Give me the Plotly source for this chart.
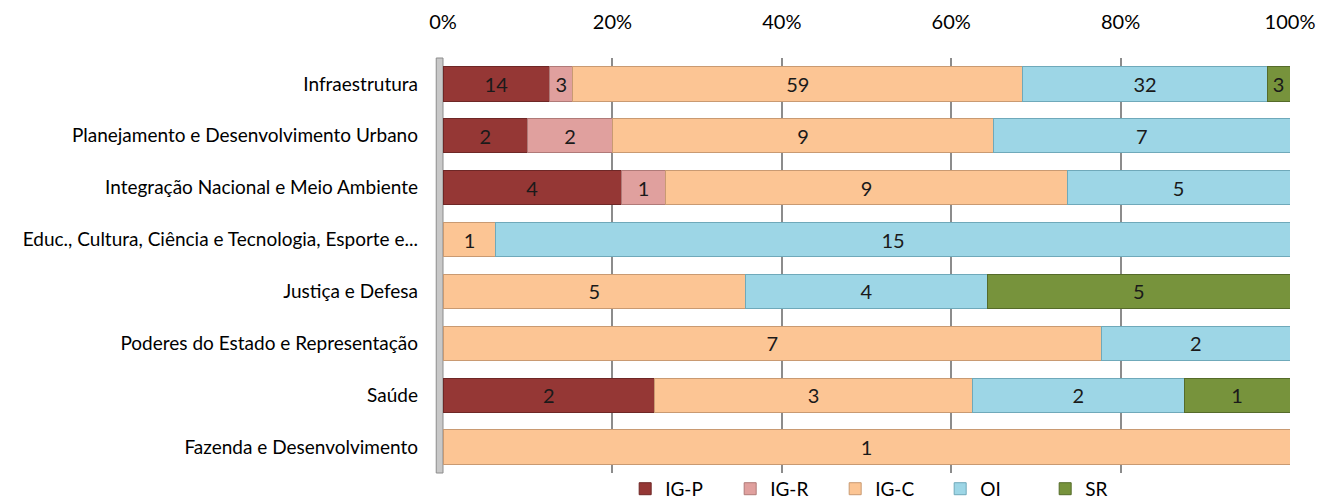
import plotly.graph_objects as go

categories = [
    "Infraestrutura",
    "Planejamento e Desenvolvimento Urbano",
    "Integração Nacional e Meio Ambiente",
    "Educ., Cultura, Ciência e Tecnologia, Esporte e...",
    "Justiça e Defesa",
    "Poderes do Estado e Representação",
    "Saúde",
    "Fazenda e Desenvolvimento",
]

series_names = ["IG-P", "IG-R", "IG-C", "OI", "SR"]
ig_p = [14, 2, 4, 0, 0, 0, 2, 0]
ig_r = [3, 2, 1, 0, 0, 0, 0, 0]
ig_c = [59, 9, 9, 1, 5, 7, 3, 1]
oi = [32, 7, 5, 15, 4, 2, 2, 0]
sr = [3, 0, 0, 0, 5, 0, 1, 0]

x_ticks = [0, 20, 40, 60, 80, 100]
x_tick_labels = ["0%", "20%", "40%", "60%", "80%", "100%"]

colors = ["#953735", "#E0A09E", "#FCC594", "#9DD6E6", "#77933C"]
edge_colors = ["#6E2726", "#B07A78", "#C99A72", "#6FA9BA", "#556B2A"]

FONT = "Lato, 'Open Sans', sans-serif"

fig = go.Figure()
for name, vals, col, edge in zip(series_names, [ig_p, ig_r, ig_c, oi, sr], colors, edge_colors):
    fig.add_trace(go.Bar(
        name=name,
        y=categories,
        x=vals,
        orientation="h",
        marker=dict(color=col, line=dict(color=edge, width=1)),
        text=[str(v) if v else "" for v in vals],
        textposition="inside",
        insidetextanchor="middle",
        textangle=0,
        constraintext="none",
        textfont=dict(family=FONT, size=20, color="#1a1a1a"),
        hoverinfo="skip",
    ))

fig.update_layout(
    barmode="stack",
    barnorm="percent",
    bargap=0.34,
    width=1328,
    height=502,
    margin=dict(l=443, r=38, t=58, b=29, autoexpand=False),
    paper_bgcolor="white",
    plot_bgcolor="white",
    font=dict(family=FONT, size=19, color="#000000"),
    uniformtext=dict(minsize=19, mode="show"),
    xaxis=dict(
        side="top",
        range=[0, 100],
        tickvals=x_ticks,
        ticktext=x_tick_labels,
        showgrid=True,
        gridcolor="#8C8C8C",
        gridwidth=1.5,
        zeroline=False,
        showline=False,
        ticks="",
        ticklabelstandoff=24,
        tickfont=dict(family=FONT, size=20, color="#000000"),
        automargin=False,
    ),
    yaxis=dict(
        categoryorder="array",
        categoryarray=categories[::-1],
        showgrid=False,
        showline=False,
        ticks="",
        ticklabelstandoff=24,
        tickfont=dict(family=FONT, size=19, color="#000000"),
        automargin=False,
    ),
    legend=dict(
        orientation="h",
        x=0.525,
        xanchor="center",
        y=-0.084,
        yanchor="bottom",
        traceorder="normal",
        font=dict(family=FONT, size=19, color="#000000"),
        itemwidth=30,
        entrywidth=60,
        entrywidthmode="pixels",
        bgcolor="rgba(0,0,0,0)",
    ),
    shapes=[
        dict(type="rect", xref="paper", yref="paper", x0=-0.008, x1=0.0, y0=0, y1=1,
             fillcolor="#C8C8C8", line=dict(color="#8C8C8C", width=1), layer="below"),
    ],
)

fig.write_html("out.html")
